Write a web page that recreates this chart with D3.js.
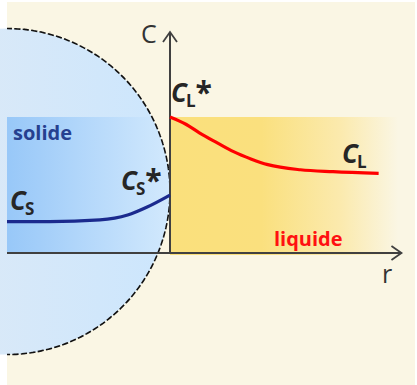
<!DOCTYPE html>
<html>
<head>
<meta charset="utf-8">
<script src="https://cdn.jsdelivr.net/npm/d3@7"></script>
<style>
  body { margin: 0; background: #fff; }
  svg { display: block; font-family: "Open Sans", Lato, sans-serif; }
</style>
</head>
<body>
<svg width="417" height="385"></svg>
<script>
// r : 0 = centre of the solid, 1 = interface ; C : 1 = C_L*
var liquidR = [1.0, 1.1, 1.18, 1.29, 1.39, 1.5, 1.6, 1.8, 2.0, 2.28],
    liquidC = [1.0, 0.945, 0.884, 0.81, 0.745, 0.69, 0.65, 0.612, 0.598, 0.586];
var solidR = [0.0, 0.26, 0.57, 0.74, 0.86, 1.0],
    solidC = [0.23, 0.23, 0.243, 0.279, 0.338, 0.426];
var circleC = 0.452;   // height of solid centre
var bandTop = 1.0;     // C_L* level

var svg = d3.select("svg");

var x = d3.scaleLinear().domain([0, 1]).range([7, 170]),
    y = d3.scaleLinear().domain([0, 1]).range([253, 117]);

var defs = svg.append("defs");

function grad(id, stops) {
  var g = defs.append("linearGradient").attr("id", id)
    .attr("x1", "0%").attr("x2", "100%").attr("y1", "0%").attr("y2", "0%");
  stops.forEach(function(s) {
    g.append("stop").attr("offset", s[0]).attr("stop-color", s[1]);
  });
}
grad("gCircle", [["0%", "#E3EBF4"], ["100%", "#CCE6FD"]]);
grad("gSolid", [["0%", "#98C8F8"], ["20%", "#A3CEF9"], ["100%", "#D2E9FD"]]);
grad("gLiquid", [["0%", "#FAE07C"], ["40%", "#FAE07E"], ["75%", "#FBEAAE"], ["100%", "#FAF6E4"]]);

var rad = x(1) - x(0);

defs.append("clipPath").attr("id", "clipCircle")
  .append("circle")
    .attr("cx", x(0)).attr("cy", y(circleC)).attr("r", rad);

// background
svg.append("rect")
  .attr("x", 7).attr("y", 2).attr("width", 408).attr("height", 383)
  .attr("fill", "#FAF6E4");

// solid sphere
svg.append("circle")
  .attr("cx", x(0)).attr("cy", y(circleC)).attr("r", rad)
  .attr("fill", "url(#gCircle)");

svg.append("rect")
  .attr("clip-path", "url(#clipCircle)")
  .attr("x", x(0)).attr("y", y(bandTop))
  .attr("width", x(1) - x(0)).attr("height", y(0) - y(bandTop))
  .attr("fill", "url(#gSolid)");

// liquid band
svg.append("rect")
  .attr("x", x(1)).attr("y", y(bandTop))
  .attr("width", x(2.4) - x(1)).attr("height", y(0) - y(bandTop) + 2)
  .attr("fill", "url(#gLiquid)");

// dashed interface
svg.append("path")
  .attr("d", d3.arc()({innerRadius: rad, outerRadius: rad, startAngle: 0, endAngle: Math.PI}))
  .attr("transform", "translate(" + x(0) + "," + y(circleC) + ")")
  .attr("fill", "none")
  .attr("stroke", "#111")
  .attr("stroke-width", 1.6)
  .attr("stroke-dasharray", "5,3.5");

// axes
var axisColor = "#404040";
svg.append("line")
  .attr("x1", x(0)).attr("x2", x(2.42)).attr("y1", y(0)).attr("y2", y(0))
  .attr("stroke", axisColor).attr("stroke-width", 2);
svg.append("line")
  .attr("x1", x(1)).attr("x2", x(1)).attr("y1", y(0)).attr("y2", y(1.625))
  .attr("stroke", axisColor).attr("stroke-width", 2);

svg.append("path")
  .attr("d", "M" + (x(2.42) - 10) + "," + (y(0) - 7) + "L" + x(2.42) + "," + y(0) + "L" + (x(2.42) - 10) + "," + (y(0) + 7))
  .attr("fill", "none").attr("stroke", axisColor).attr("stroke-width", 1.8);
svg.append("path")
  .attr("d", "M" + (x(1) - 7) + "," + (y(1.625) + 10) + "L" + x(1) + "," + y(1.625) + "L" + (x(1) + 7) + "," + (y(1.625) + 10))
  .attr("fill", "none").attr("stroke", axisColor).attr("stroke-width", 1.8);

svg.append("text").attr("x", 141).attr("y", 43)
  .attr("font-size", 25).attr("fill", "#333").text("C");
svg.append("text").attr("x", 382).attr("y", 283)
  .attr("font-size", 25).attr("fill", "#333").text("r");

// profiles
var line = d3.line()
  .x(function(d) { return x(d[0]); })
  .y(function(d) { return y(d[1]); })
  .curve(d3.curveMonotoneX);

svg.append("path")
  .datum(d3.zip(liquidR, liquidC))
  .attr("d", line)
  .attr("fill", "none").attr("stroke", "#FF0000").attr("stroke-width", 3.2);

svg.append("path")
  .datum(d3.zip(solidR, solidC))
  .attr("d", line)
  .attr("fill", "none").attr("stroke", "#1B2A8E").attr("stroke-width", 3.2);

// labels
function conc(px, py, sub, star) {
  var t = svg.append("text").attr("x", px).attr("y", py)
    .attr("fill", "#262626").attr("font-weight", "bold");
  t.append("tspan").attr("font-size", 26).attr("font-style", "italic").text("C");
  t.append("tspan").attr("font-size", 17).attr("dy", 5).attr("dx", -1).text(sub);
  if (star) t.append("tspan").attr("font-size", 30).attr("dy", -4).attr("dx", 0).text("*");
}
conc(171, 102, "L", true);
conc(121, 190, "S", true);
conc(342, 163, "L", false);
conc(10, 210, "S", false);

svg.append("text").attr("x", 13).attr("y", 140)
  .attr("font-size", 20).attr("font-weight", "bold").attr("fill", "#26408F")
  .text("solide");
svg.append("text").attr("x", 274).attr("y", 246)
  .attr("font-size", 20).attr("font-weight", "bold").attr("fill", "#FF1010")
  .text("liquide");
</script>
</body>
</html>
